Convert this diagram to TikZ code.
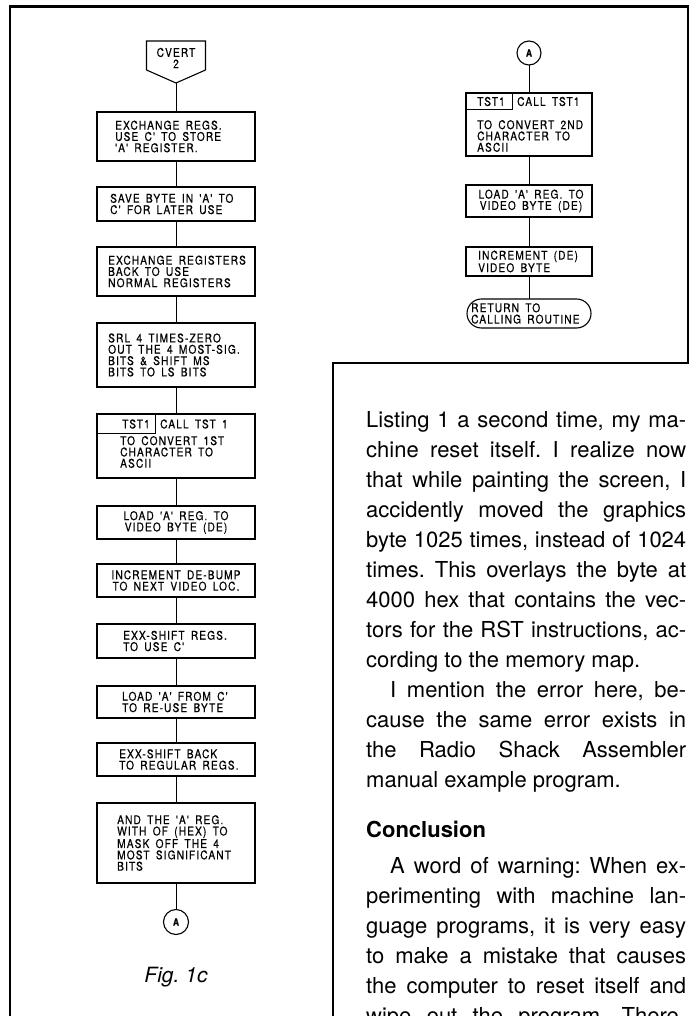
\documentclass[tikz,border=0pt]{standalone}
\usepackage{fontspec}
\setmainfont{TeX Gyre Heros}
\newfontfamily\flowfont[FakeStretch=0.85, LetterSpace=9, WordSpace=1.6, FakeBold=0.4]{TeX Gyre Heros}
\newcommand\jline[1]{\makebox[320pt][s]{#1}}
\newcommand\jind[1]{\makebox[296pt][s]{#1}}
\frenchspacing
\begin{document}
\begin{tikzpicture}[x=1pt,y=-1pt,
  box/.style={draw, line width=1.1pt, minimum width=158pt, inner sep=0pt, outer sep=0pt},
  rbox/.style={draw, line width=1.1pt, minimum width=126pt, inner sep=0pt, outer sep=0pt},
  ftext/.style={font=\flowfont\fontsize{12}{11.3}\selectfont, align=left, inner sep=0pt},
  ctext/.style={font=\flowfont\fontsize{12}{11.3}\selectfont, align=center, inner sep=0pt},
  conn/.style={line width=1pt},
  conncircle/.style={draw, circle, line width=1.1pt, minimum size=25pt, inner sep=0pt, outer sep=0pt, font=\flowfont\bfseries\fontsize{10}{10}\selectfont},
  body/.style={font=\fontsize{22}{30}\selectfont, inner sep=0pt, anchor=base west},
  frameline/.style={line width=2.4pt, line join=miter}]
\useasboundingbox (0,0) rectangle (693,1016);
\fill[white] (0,0) rectangle (693,1016);

% frame
\draw[frameline] (10,1016) -- (10,6.5) -- (688,6.5) -- (688,363) -- (333,363) -- (333,1016);

% ---------- left flowchart ----------
\draw[line width=1.1pt, line join=miter] (146.5,41) -- (205.5,41) -- (205.5,70) -- (176,83) -- (146.5,70) -- cycle;
\node[ctext] (cvt) at (176,58) {CVERT\\2};
\coordinate (cvb) at (176,83);

\node[box, minimum height=49pt] (b1) at (176,136.5) {};
\node[ftext, anchor=west] (t1) at (115,136.5) {EXCHANGE REGS.\\USE C' TO STORE\\'A' REGISTER.};

\node[box, minimum height=34pt] (b2) at (176,204) {};
\node[ftext, anchor=west] (t2) at (110,204) {SAVE BYTE IN 'A' TO\\C' FOR LATER USE};

\node[box, minimum height=49pt] (b3) at (176,271.5) {};
\node[ftext, anchor=west] (t3) at (108,271.5) {EXCHANGE REGISTERS\\BACK TO USE\\NORMAL REGISTERS};

\node[box, minimum height=64pt] (b4) at (176,355) {};
\node[ftext, anchor=west] (t4) at (108,355) {SRL 4 TIMES-ZERO\\OUT THE 4 MOST-SIG.\\BITS \& SHIFT MS\\BITS TO LS BITS};

\node[box, minimum height=64pt] (b5) at (176,446) {};
\node[draw, line width=1pt, minimum width=58pt, minimum height=19pt, inner sep=0pt, outer sep=0pt, anchor=north west] (s5) at (b5.north west) {};
\node[ctext] (ts5) at (136,424) {TST1};
\node[ftext, anchor=west] (tc5) at (160,424) {CALL TST 1};
\node[ftext, anchor=west] (t5) at (120,452) {TO CONVERT 1ST\\CHARACTER TO\\ASCII};

\node[box, minimum height=33pt] (b6) at (176,522.5) {};
\node[ctext] (t6) at (176,522.5) {LOAD 'A' REG. TO\\VIDEO BYTE (DE)};

\node[box, minimum height=33pt] (b7) at (176,580.5) {};
\node[ctext] (t7) at (176,580.5) {INCREMENT DE-BUMP\\TO NEXT VIDEO LOC.};

\node[box, minimum height=34pt] (b8) at (176,641) {};
\node[ftext, anchor=west] (t8) at (123,641) {EXX-SHIFT REGS.\\TO USE C'};

\node[box, minimum height=32pt] (b9) at (176,702) {};
\node[ftext, anchor=west] (t9) at (122,702) {LOAD 'A' FROM C'\\TO RE-USE BYTE};

\node[box, minimum height=33pt] (b10) at (176,759.5) {};
\node[ftext, anchor=west] (t10) at (119,759.5) {EXX-SHIFT BACK\\TO REGULAR REGS.};

\node[box, minimum height=80pt] (b11) at (176,843) {};
\node[ftext, anchor=west] (t11) at (117,843) {AND THE 'A' REG.\\WITH OF (HEX) TO\\MASK OFF THE 4\\MOST SIGNIFICANT\\BITS};

\node[conncircle] (ca) at (176,922) {A};

\node[font=\itshape\fontsize{21}{21}\selectfont, inner sep=0pt] (fig) at (176,977) {Fig. 1c};

\draw[conn] (cvb) -- (b1);
\draw[conn] (b1) -- (b2);
\draw[conn] (b2) -- (b3);
\draw[conn] (b3) -- (b4);
\draw[conn] (b4) -- (b5);
\draw[conn] (b5) -- (b6);
\draw[conn] (b6) -- (b7);
\draw[conn] (b7) -- (b8);
\draw[conn] (b8) -- (b9);
\draw[conn] (b9) -- (b10);
\draw[conn] (b10) -- (b11);
\draw[conn] (b11) -- (ca);

% ---------- right flowchart ----------
\node[conncircle, minimum size=24pt] (ra) at (529,53) {A};

\node[rbox, minimum height=63pt] (r1) at (529,124.5) {};
\node[draw, line width=1pt, minimum width=46pt, minimum height=17pt, inner sep=0pt, outer sep=0pt, anchor=north west] (rs1) at (r1.north west) {};
\node[ctext] (rts1) at (491,101.5) {TST1};
\node[ftext, anchor=west] (rtc1) at (517,101.5) {CALL TST1};
\node[ftext, anchor=west] (rt1) at (477,136) {TO CONVERT 2ND\\CHARACTER TO\\ASCII};

\node[rbox, minimum height=32pt] (r2) at (529,201) {};
\node[ctext] (rt2) at (531,201) {LOAD 'A' REG. TO\\VIDEO BYTE (DE)};

\node[rbox, minimum height=29pt] (r3) at (529,261.5) {};
\node[ftext, anchor=west] (rt3) at (478,261.5) {INCREMENT (DE)\\VIDEO BYTE};

\node[draw, line width=1.1pt, rounded corners=14.5pt, minimum width=124pt, minimum height=29pt, inner sep=0pt, outer sep=0pt] (r4) at (529,313.5) {};
\node[ftext, anchor=west] (rt4) at (471,313.5) {RETURN TO\\CALLING ROUTINE};

\draw[conn] (ra) -- (r1);
\draw[conn] (r1) -- (r2);
\draw[conn] (r2) -- (r3);
\draw[conn] (r3) -- (r4);

% ---------- body text ----------
\node[body] (p1) at (366,427) {\jline{Listing 1 a second time, my ma-}};
\node[body] (p2) at (366,457) {\jline{chine reset itself. I realize now}};
\node[body] (p3) at (366,487) {\jline{that while painting the screen, I}};
\node[body] (p4) at (366,517) {\jline{accidently moved the graphics}};
\node[body] (p5) at (366,547) {\jline{byte 1025 times, instead of 1024}};
\node[body] (p6) at (366,577) {\jline{times. This overlays the byte at}};
\node[body] (p7) at (366,607) {\jline{4000 hex that contains the vec-}};
\node[body] (p8) at (366,637) {\jline{tors for the RST instructions, ac-}};
\node[body] (p9) at (366,667) {cording to the memory map.};
\node[body] (p10) at (390,697) {\jind{I mention the error here, be-}};
\node[body] (p11) at (366,727) {\jline{cause the same error exists in}};
\node[body] (p12) at (366,757) {\jline{the Radio Shack Assembler}};
\node[body] (p13) at (366,787) {manual example program.};
\node[body, font=\bfseries\fontsize{22}{30}\selectfont] (conc) at (366,837) {Conclusion};
\node[body] (p14) at (390,873) {\jind{A word of warning: When ex-}};
\node[body] (p15) at (366,903) {\jline{perimenting with machine lan-}};
\node[body] (p16) at (366,933) {\jline{guage programs, it is very easy}};
\node[body] (p17) at (366,963) {\jline{to make a mistake that causes}};
\node[body] (p18) at (366,993) {\jline{the computer to reset itself and}};
\node[body] (p19) at (366,1023) {\jline{wipe out the program. There-}};
\end{tikzpicture}
\end{document}
